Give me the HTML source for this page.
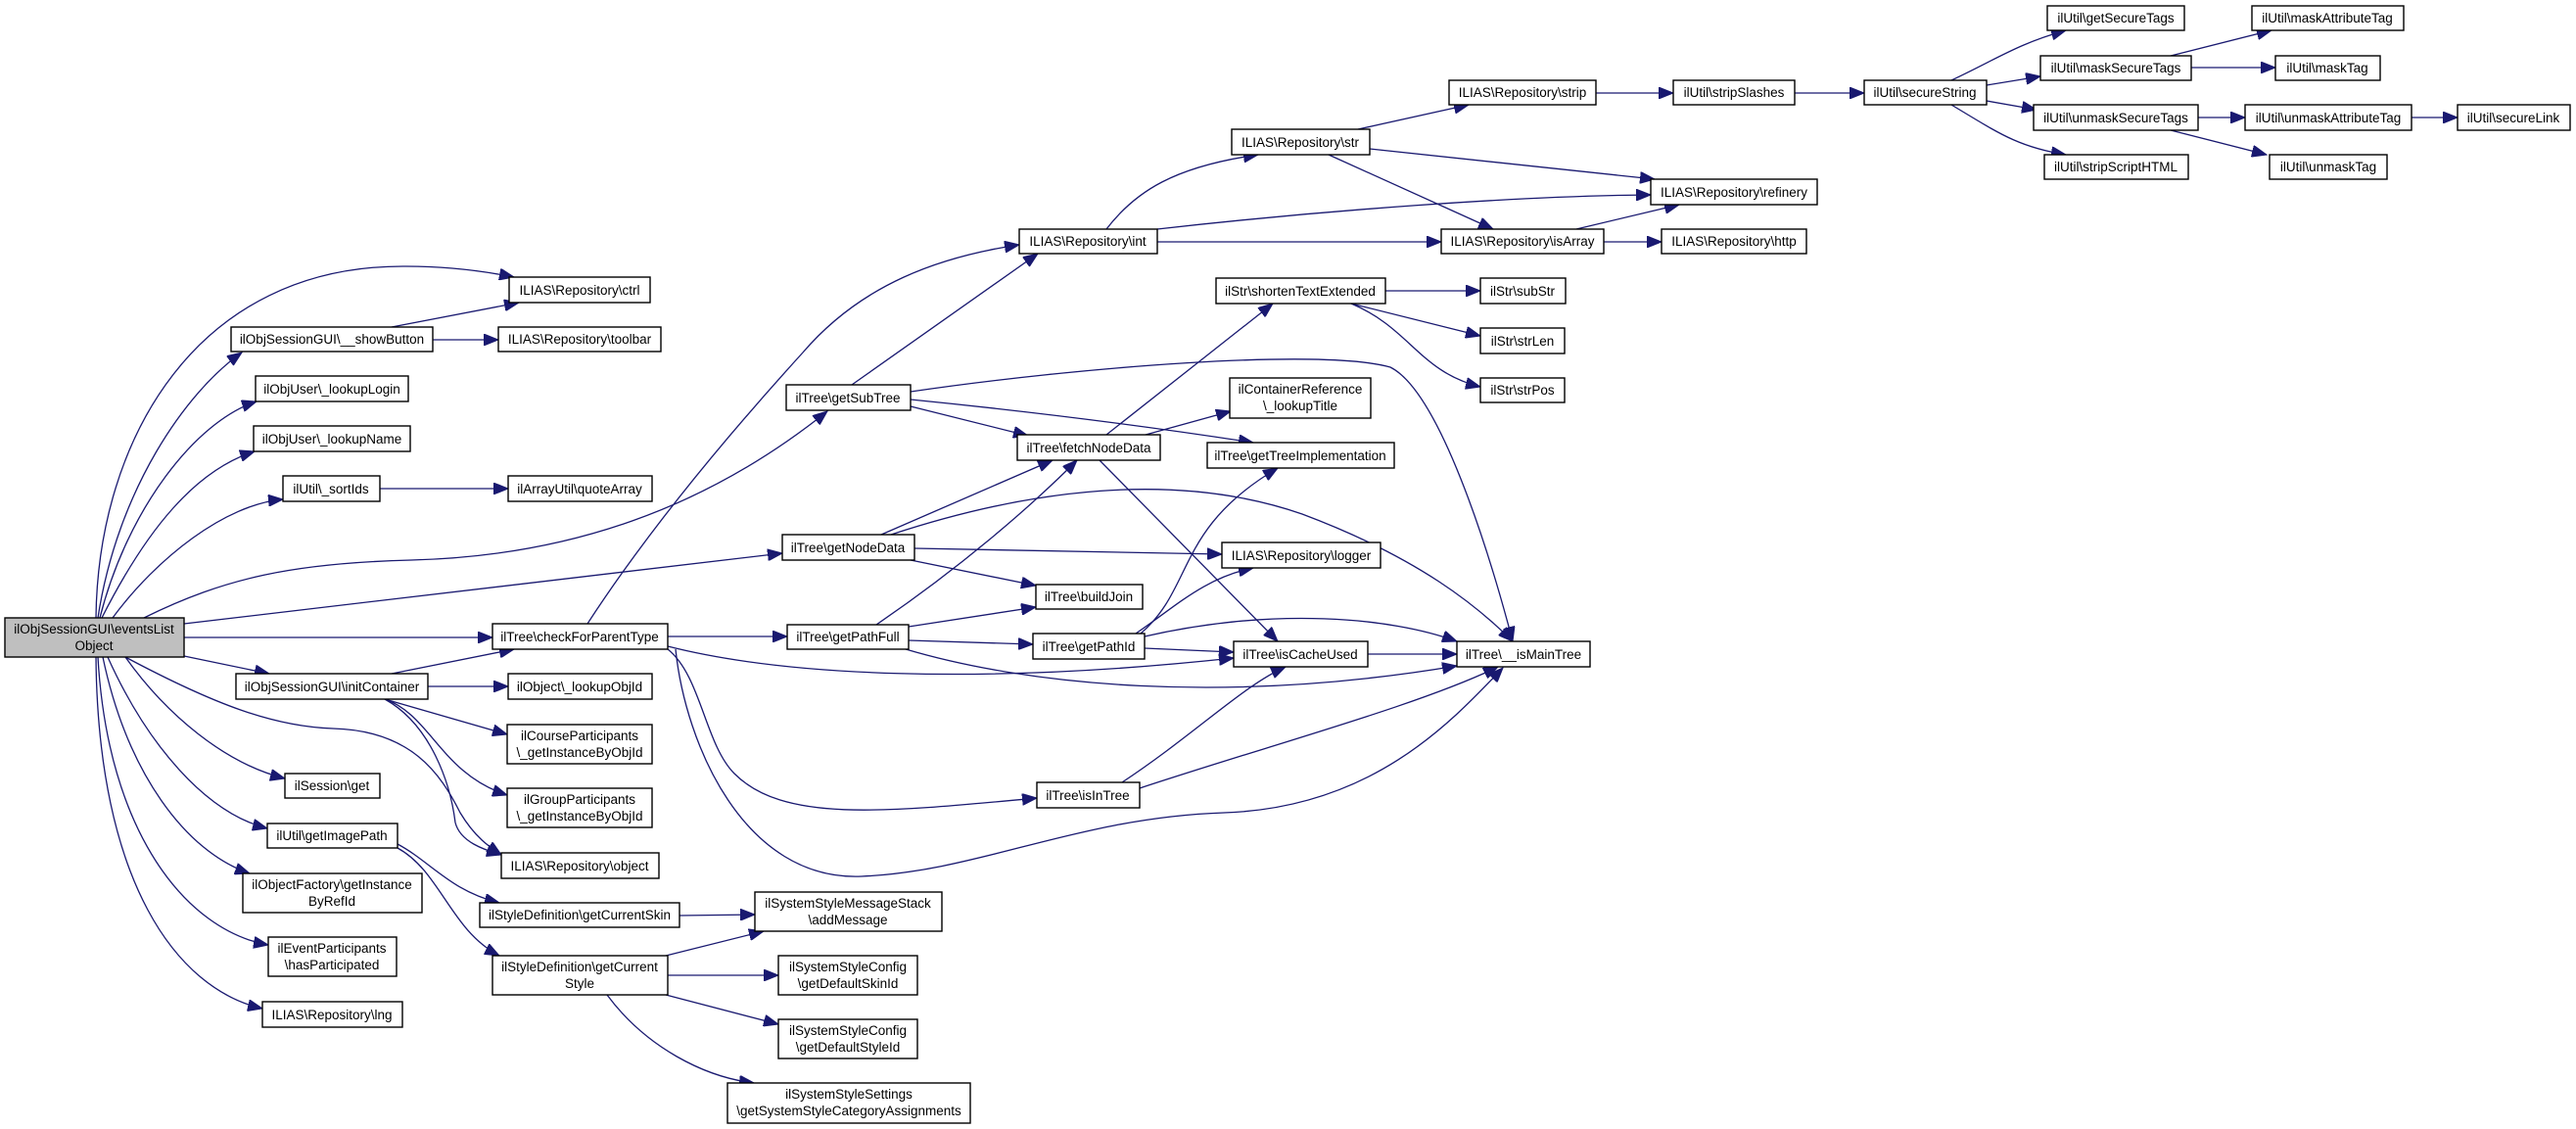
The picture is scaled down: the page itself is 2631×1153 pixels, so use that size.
<!DOCTYPE html>
<html><head><meta charset="utf-8"><style>
html,body{margin:0;padding:0;background:#fff;}
svg{display:block;}
text{font-family:"Liberation Sans",Arial,sans-serif;font-size:13.5px;fill:#000;text-anchor:middle;}
.b{fill:#fff;stroke:#000;stroke-width:1.4;}
.e{fill:none;stroke:#191970;stroke-width:1.3;marker-end:url(#a);}
</style></head><body>
<svg width="2631" height="1153" viewBox="0 0 2631 1153" xmlns="http://www.w3.org/2000/svg">
<defs><marker id="a" markerUnits="userSpaceOnUse" markerWidth="16" markerHeight="12" refX="15" refY="6" orient="auto"><path d="M0,0 L15,6 L0,12 Z" fill="#191970" stroke="#191970"/></marker></defs>

<!-- edges -->
<path class="e" d="M98,631 C100,450 200,270 415,272 C460,272 500,278 525,283"/>
<path class="e" d="M100,631 C120,500 190,400 247,360"/>
<path class="e" d="M102,631 C130,520 200,430 262,410"/>
<path class="e" d="M104,631 C150,540 200,480 260,461"/>
<path class="e" d="M115,631 C160,570 230,515 289,510"/>
<path class="e" d="M147,631 C230,590 300,575 420,572 C580,568 720,520 845,420"/>
<path class="e" d="M188,637 L799,565"/>
<path class="e" d="M188,651 L503,651"/>
<path class="e" d="M188,670 L275,688"/>
<path class="e" d="M128,671 C170,730 230,780 291,795"/>
<path class="e" d="M110,671 C150,760 210,830 273,846"/>
<path class="e" d="M105,671 C130,790 190,870 255,892"/>
<path class="e" d="M100,671 C110,850 190,950 274,965"/>
<path class="e" d="M98,671 C100,900 180,1010 268,1030"/>
<path class="e" d="M128,671 C220,720 280,742 340,744 C420,746 450,790 470,830 C485,855 500,865 512,873"/>

<path class="e" d="M400,334 L530,309"/>
<path class="e" d="M442,347 L509,347"/>
<path class="e" d="M388,499 L519,499"/>
<path class="e" d="M400,688 L525,663"/>
<path class="e" d="M437,701 L519,701"/>
<path class="e" d="M393,714 L518,750"/>
<path class="e" d="M393,714 C440,730 450,790 518,812"/>
<path class="e" d="M393,714 C440,740 460,800 465,840 C470,860 495,868 512,873"/>
<path class="e" d="M406,862 C440,880 460,910 510,922"/>
<path class="e" d="M406,866 C450,890 460,950 510,976"/>
<path class="e" d="M694,935 L771,934"/>
<path class="e" d="M680,976 L780,951"/>
<path class="e" d="M682,996 L795,996"/>
<path class="e" d="M680,1016 L795,1046"/>
<path class="e" d="M620,1016 C660,1070 720,1100 770,1106"/>

<path class="e" d="M600,637 C650,560 720,470 820,360 C880,290 960,262 1041,250"/>
<path class="e" d="M682,650 L804,650"/>
<path class="e" d="M682,660 C800,690 1000,700 1260,672"/>
<path class="e" d="M682,663 C716,690 720,760 750,790 C800,840 900,830 1059,815"/>
<path class="e" d="M690,663 C700,760 760,900 880,895 C1000,890 1100,835 1250,830 C1400,825 1480,740 1535,682"/>

<path class="e" d="M870,393 L1060,259"/>
<path class="e" d="M930,415 L1050,445"/>
<path class="e" d="M930,408 C1050,420 1170,435 1280,452"/>
<path class="e" d="M930,400 C1100,375 1350,355 1420,375 C1470,400 1520,560 1545,655"/>
<path class="e" d="M1130,444 L1300,310"/>
<path class="e" d="M1170,444 L1257,420"/>
<path class="e" d="M1123,470 L1305,655"/>
<path class="e" d="M900,546 L1075,470"/>
<path class="e" d="M910,546 C1050,500 1200,480 1330,525 C1450,570 1510,620 1545,655"/>
<path class="e" d="M934,560 L1248,566"/>
<path class="e" d="M930,572 L1058,598"/>
<path class="e" d="M895,638 C980,580 1050,520 1100,470"/>
<path class="e" d="M928,640 L1058,620"/>
<path class="e" d="M928,654 L1055,658"/>
<path class="e" d="M925,663 C1050,700 1250,720 1488,680"/>
<path class="e" d="M1160,647 C1200,620 1230,590 1280,580"/>
<path class="e" d="M1165,647 C1220,600 1200,540 1305,478"/>
<path class="e" d="M1169,662 L1260,666"/>
<path class="e" d="M1169,650 C1300,620 1420,630 1488,655"/>
<path class="e" d="M1397,668 L1488,668"/>
<path class="e" d="M1146,799 C1220,750 1270,700 1313,681"/>
<path class="e" d="M1164,805 C1300,760 1450,720 1530,681"/>

<path class="e" d="M1130,234 C1160,195 1200,170 1285,158"/>
<path class="e" d="M1182,234 C1350,215 1550,200 1686,199"/>
<path class="e" d="M1182,247 L1472,247"/>
<path class="e" d="M1387,132 L1500,107"/>
<path class="e" d="M1399,152 L1690,183"/>
<path class="e" d="M1357,158 L1525,234"/>
<path class="e" d="M1610,234 L1715,209"/>
<path class="e" d="M1638,247 L1697,247"/>
<path class="e" d="M1630,95 L1709,95"/>
<path class="e" d="M1833,95 L1904,95"/>
<path class="e" d="M1993,82 C2040,60 2060,45 2110,31"/>
<path class="e" d="M2029,87 L2084,78"/>
<path class="e" d="M2029,103 L2080,112"/>
<path class="e" d="M1993,107 C2040,135 2060,150 2110,158"/>
<path class="e" d="M2217,57 L2320,31"/>
<path class="e" d="M2238,69 L2324,69"/>
<path class="e" d="M2245,120 L2293,120"/>
<path class="e" d="M2217,133 L2315,158"/>
<path class="e" d="M2463,120 L2510,120"/>
<path class="e" d="M1415,297 L1512,297"/>
<path class="e" d="M1380,310 L1512,343"/>
<path class="e" d="M1380,310 C1440,335 1450,380 1512,395"/>

<!-- nodes -->
<rect x="5" y="631" width="183" height="40" fill="#bfbfbf" stroke="#000" stroke-width="1.4"/>
<text x="96" y="647">ilObjSessionGUI\eventsList</text><text x="96" y="664">Object</text>

<rect class="b" x="520" y="283" width="144" height="26"/><text x="592" y="301">ILIAS\Repository\ctrl</text>
<rect class="b" x="236" y="334" width="206" height="25"/><text x="339" y="351">ilObjSessionGUI\__showButton</text>
<rect class="b" x="509" y="334" width="166" height="25"/><text x="592" y="351">ILIAS\Repository\toolbar</text>
<rect class="b" x="261" y="384" width="156" height="26"/><text x="339" y="402">ilObjUser\_lookupLogin</text>
<rect class="b" x="259" y="435" width="160" height="26"/><text x="339" y="453">ilObjUser\_lookupName</text>
<rect class="b" x="289" y="486" width="99" height="26"/><text x="338" y="504">ilUtil\_sortIds</text>
<rect class="b" x="519" y="486" width="147" height="26"/><text x="592" y="504">ilArrayUtil\quoteArray</text>
<rect class="b" x="503" y="637" width="179" height="26"/><text x="592" y="655">ilTree\checkForParentType</text>
<rect class="b" x="241" y="688" width="196" height="26"/><text x="339" y="706">ilObjSessionGUI\initContainer</text>
<rect class="b" x="519" y="688" width="147" height="26"/><text x="592" y="706">ilObject\_lookupObjId</text>
<rect class="b" x="518" y="740" width="148" height="40"/><text x="592" y="756">ilCourseParticipants</text><text x="592" y="773">\_getInstanceByObjId</text>
<rect class="b" x="518" y="805" width="148" height="40"/><text x="592" y="821">ilGroupParticipants</text><text x="592" y="838">\_getInstanceByObjId</text>
<rect class="b" x="512" y="871" width="161" height="26"/><text x="592" y="889">ILIAS\Repository\object</text>
<rect class="b" x="291" y="790" width="97" height="25"/><text x="339" y="807">ilSession\get</text>
<rect class="b" x="273" y="841" width="133" height="25"/><text x="339" y="858">ilUtil\getImagePath</text>
<rect class="b" x="248" y="892" width="183" height="40"/><text x="339" y="908">ilObjectFactory\getInstance</text><text x="339" y="925">ByRefId</text>
<rect class="b" x="274" y="957" width="131" height="40"/><text x="339" y="973">ilEventParticipants</text><text x="339" y="990">\hasParticipated</text>
<rect class="b" x="268" y="1023" width="143" height="26"/><text x="339" y="1041">ILIAS\Repository\lng</text>
<rect class="b" x="490" y="922" width="204" height="25"/><text x="592" y="939">ilStyleDefinition\getCurrentSkin</text>
<rect class="b" x="503" y="976" width="179" height="40"/><text x="592" y="992">ilStyleDefinition\getCurrent</text><text x="592" y="1009">Style</text>
<rect class="b" x="771" y="911" width="191" height="40"/><text x="866" y="927">ilSystemStyleMessageStack</text><text x="866" y="944">\addMessage</text>
<rect class="b" x="795" y="976" width="142" height="40"/><text x="866" y="992">ilSystemStyleConfig</text><text x="866" y="1009">\getDefaultSkinId</text>
<rect class="b" x="795" y="1041" width="142" height="40"/><text x="866" y="1057">ilSystemStyleConfig</text><text x="866" y="1074">\getDefaultStyleId</text>
<rect class="b" x="743" y="1106" width="248" height="41"/><text x="867" y="1122">ilSystemStyleSettings</text><text x="867" y="1139">\getSystemStyleCategoryAssignments</text>

<rect class="b" x="803" y="393" width="127" height="26"/><text x="866" y="411">ilTree\getSubTree</text>
<rect class="b" x="799" y="546" width="135" height="26"/><text x="866" y="564">ilTree\getNodeData</text>
<rect class="b" x="804" y="638" width="124" height="25"/><text x="866" y="655">ilTree\getPathFull</text>
<rect class="b" x="1039" y="444" width="146" height="26"/><text x="1112" y="462">ilTree\fetchNodeData</text>
<rect class="b" x="1058" y="597" width="109" height="25"/><text x="1112" y="614">ilTree\buildJoin</text>
<rect class="b" x="1055" y="647" width="114" height="26"/><text x="1112" y="665">ilTree\getPathId</text>
<rect class="b" x="1059" y="799" width="105" height="26"/><text x="1111" y="817">ilTree\isInTree</text>
<rect class="b" x="1256" y="386" width="144" height="41"/><text x="1328" y="402">ilContainerReference</text><text x="1328" y="419">\_lookupTitle</text>
<rect class="b" x="1233" y="452" width="191" height="26"/><text x="1328" y="470">ilTree\getTreeImplementation</text>
<rect class="b" x="1248" y="554" width="162" height="26"/><text x="1329" y="572">ILIAS\Repository\logger</text>
<rect class="b" x="1260" y="655" width="137" height="26"/><text x="1328" y="673">ilTree\isCacheUsed</text>
<rect class="b" x="1488" y="655" width="136" height="26"/><text x="1556" y="673">ilTree\__isMainTree</text>

<rect class="b" x="1041" y="234" width="141" height="25"/><text x="1111" y="251">ILIAS\Repository\int</text>
<rect class="b" x="1258" y="132" width="141" height="26"/><text x="1328" y="150">ILIAS\Repository\str</text>
<rect class="b" x="1242" y="284" width="173" height="26"/><text x="1328" y="302">ilStr\shortenTextExtended</text>
<rect class="b" x="1512" y="284" width="87" height="26"/><text x="1555" y="302">ilStr\subStr</text>
<rect class="b" x="1512" y="335" width="86" height="26"/><text x="1555" y="353">ilStr\strLen</text>
<rect class="b" x="1512" y="386" width="86" height="25"/><text x="1555" y="403">ilStr\strPos</text>
<rect class="b" x="1480" y="82" width="150" height="25"/><text x="1555" y="99">ILIAS\Repository\strip</text>
<rect class="b" x="1472" y="234" width="166" height="25"/><text x="1555" y="251">ILIAS\Repository\isArray</text>
<rect class="b" x="1686" y="183" width="170" height="26"/><text x="1771" y="201">ILIAS\Repository\refinery</text>
<rect class="b" x="1697" y="234" width="148" height="25"/><text x="1771" y="251">ILIAS\Repository\http</text>
<rect class="b" x="1709" y="82" width="124" height="25"/><text x="1771" y="99">ilUtil\stripSlashes</text>
<rect class="b" x="1904" y="82" width="125" height="25"/><text x="1966" y="99">ilUtil\secureString</text>
<rect class="b" x="2091" y="6" width="140" height="25"/><text x="2161" y="23">ilUtil\getSecureTags</text>
<rect class="b" x="2084" y="57" width="154" height="25"/><text x="2161" y="74">ilUtil\maskSecureTags</text>
<rect class="b" x="2077" y="107" width="168" height="26"/><text x="2161" y="125">ilUtil\unmaskSecureTags</text>
<rect class="b" x="2088" y="158" width="147" height="25"/><text x="2161" y="175">ilUtil\stripScriptHTML</text>
<rect class="b" x="2300" y="6" width="155" height="25"/><text x="2377" y="23">ilUtil\maskAttributeTag</text>
<rect class="b" x="2324" y="57" width="107" height="25"/><text x="2377" y="74">ilUtil\maskTag</text>
<rect class="b" x="2293" y="107" width="170" height="26"/><text x="2378" y="125">ilUtil\unmaskAttributeTag</text>
<rect class="b" x="2318" y="158" width="120" height="25"/><text x="2378" y="175">ilUtil\unmaskTag</text>
<rect class="b" x="2510" y="107" width="115" height="26"/><text x="2567" y="125">ilUtil\secureLink</text>
</svg>
</body></html>
